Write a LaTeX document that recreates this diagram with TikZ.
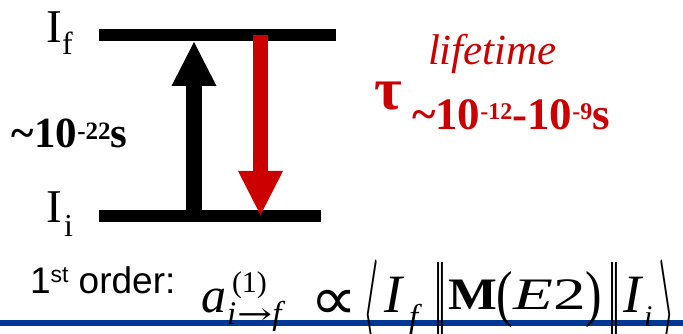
\documentclass[tikz,border=0pt]{standalone}
\usepackage{fontspec}
\setmainfont{Liberation Serif}
\newfontfamily\arialf{Liberation Sans}
\newfontfamily\djv{DejaVu Sans}
\newfontfamily\djvs{DejaVu Serif}
\usepackage{graphicx}
\usetikzlibrary{arrows.meta}
\definecolor{tred}{RGB}{204,0,0}
\definecolor{tblue}{RGB}{0,56,147}
\newcommand\fs[1]{\fontsize{#1}{#1}\selectfont}
\newcommand\tallparen[1]{\raisebox{-5pt}{\scalebox{1.1}[1.38]{#1}}}
\tikzset{
  txt/.style={inner sep=0pt, outer sep=0pt, anchor=base west},
  levelbar/.style={fill=black, inner sep=0pt, outer sep=0pt, minimum height=12pt},
  bigtip/.style={-{Triangle[length=44pt,width=45pt,line width=0pt]}},
  delim/.style={inner sep=0pt, outer sep=0pt, anchor=center}
}
\begin{document}
\begin{tikzpicture}[x=1pt,y=1pt]
\useasboundingbox (0,0) rectangle (683,334);
\clip (0,0) rectangle (683,334);
% levels
\node[levelbar, minimum width=237pt] (lf) at (217.5,299) {};
\node[levelbar, minimum width=222pt] (li) at (210,118) {};
% arrows
\coordinate (ua) at (194,112);
\coordinate (ub) at (194,292);
\draw[line width=16pt, bigtip] (ua) -- (ub);
\coordinate (da) at (260.5,299);
\coordinate (db) at (260.5,119);
\draw[tred, line width=15pt, bigtip] (da) -- (db);
% level labels
\node[txt] (If) at (46,291) {\fs{47}I};
\node[txt] (Ifs) at (62,279) {\fs{32}f};
\node[txt] (Ii) at (46,111) {\fs{47}I};
\node[txt] (Iis) at (64,97) {\fs{32}i};
% time labels
\node[txt] (t22) at (12,186) {\fs{43}\bfseries \textasciitilde 10\raisebox{8pt}{\fs{25}-22}s};
\node[txt, text=tred] (lt) at (428,269) {\fs{43}\itshape lifetime};
\node[txt, text=tred] (tau) at (374,224) {\fs{60}\bfseries τ};
\node[txt, text=tred] (rng) at (412,204) {\fs{45}\bfseries \textasciitilde 10\raisebox{10pt}{\fs{24}-12}-10\raisebox{10pt}{\fs{24}-9}s};
% bottom rule
\coordinate (bl) at (0,11);
\coordinate (br) at (683,11);
\draw[tblue, line width=6pt] (bl) -- (br);
% formula
\node[txt] (ord) at (30,40) {\arialf\fs{37}1\raisebox{11pt}{\fs{23}st} order:};
\node[txt] (a) at (201,21) {\fs{50}\itshape a};
\node[txt] (a1) at (232,41) {\fs{30}(1)};
\node[txt] (aif) at (227,9) {\fs{33}\textit{i}\kern1pt\scalebox{1.4}[1]{\djvs\fs{30}→}\textit{f}};
\node[txt] (prop) at (310,14) {\scalebox{1.1}[1]{\djv\fs{60}∝}};
\node[delim] (la) at (371,19) {\resizebox*{17pt}{110pt}{$\langle$}};
\node[txt] (I1) at (384,21) {\fs{54}\itshape I};
\node[txt] (f1) at (409,6) {\fs{33}\itshape f};
\node[delim] (n1) at (440.5,20) {\resizebox*{12pt}{102pt}{\djv ‖}};
\node[txt] (M) at (448,24) {\fs{45}\scalebox{1.15}[1]{\textbf{M}}\tallparen{(}\scalebox{1.45}[1]{\textit{E}2}\tallparen{)}};
\node[delim] (n2) at (614,20) {\resizebox*{12pt}{102pt}{\djv ‖}};
\node[txt] (I2) at (623,21) {\fs{54}\itshape I};
\node[txt] (i2) at (644,7) {\fs{30}\itshape i};
\node[delim] (ra) at (667,19) {\resizebox*{17pt}{110pt}{$\rangle$}};
\end{tikzpicture}
\end{document}
